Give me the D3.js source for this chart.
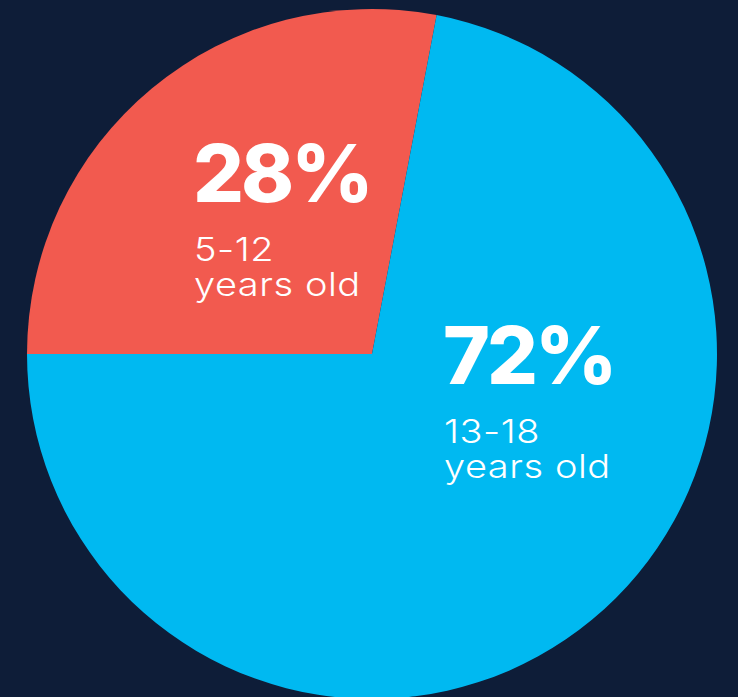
<!DOCTYPE html>
<html>
<head>
<meta charset="utf-8">
<script src="https://cdn.jsdelivr.net/npm/d3@7"></script>
<style>
  html, body { margin: 0; padding: 0; background: #0e1d38; }
  svg { display: block; }
  .pct { font-family: Inter, "Noto Sans", sans-serif; font-weight: 800; fill: #fff; }
  .lbl { font-family: Inter, "Noto Sans", sans-serif; font-weight: 300; fill: #fff; }
</style>
</head>
<body>
<div id="chart"></div>
<script>
var w = 738;
var h = 697;
var cx = 372;
var cy = 354;
var radius = 345;

// slices, clockwise from 9 o'clock
var ages = ["5-12", "13-18"];
var shares = [28, 72];
var colors = ["#f25a4f", "#00b9f1"];

// label anchor spots (baseline-left of the percent text), relative to centre
var labelPos = [[-179, -152], [71, 30]];

var svg = d3.select("#chart")
  .append("svg")
  .attr("width", w)
  .attr("height", h);

svg.append("rect")
  .attr("width", w)
  .attr("height", h)
  .attr("fill", "#0e1d38");

var pie = d3.pie()
  .sort(null)
  .startAngle(-Math.PI / 2)
  .endAngle(Math.PI * 1.5);

var arc = d3.arc()
  .innerRadius(0)
  .outerRadius(radius);

var g = svg.append("g")
  .attr("transform", "translate(" + cx + "," + cy + ")");

g.selectAll("path")
  .data(pie(shares))
  .enter()
  .append("path")
  .attr("d", arc)
  .attr("fill", function(d, i) { return colors[i]; });

var labels = g.selectAll("g.label")
  .data(shares)
  .enter()
  .append("g")
  .attr("class", "label")
  .attr("transform", function(d, i) {
    return "translate(" + labelPos[i][0] + "," + labelPos[i][1] + ")";
  });

labels.append("text")
  .attr("class", "pct")
  .attr("x", 0)
  .attr("y", 0)
  .attr("font-size", 80)
  .attr("letter-spacing", -3)
  .text(function(d) { return d + "%"; });

// two label lines, widened a bit to get the round geometric look
var sub = labels.append("text")
  .attr("class", "lbl")
  .attr("transform", "translate(1,0) scale(1.15,1)")
  .attr("font-size", 33)
  .attr("letter-spacing", 0.5);

sub.append("tspan")
  .attr("x", 0)
  .attr("y", 59)
  .text(function(d, i) { return ages[i]; });

sub.append("tspan")
  .attr("x", 0)
  .attr("dy", 35)
  .text("years old");
</script>
</body>
</html>
